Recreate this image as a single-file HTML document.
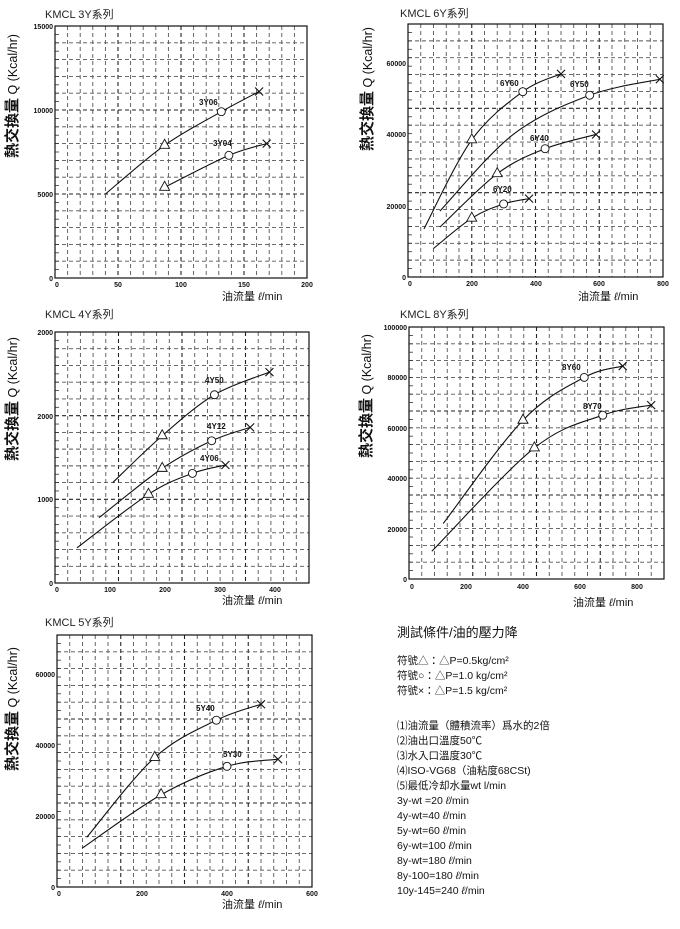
<!DOCTYPE html>
<html><head><meta charset="utf-8"><style>
html,body{margin:0;padding:0;background:#fff;}
svg{display:block;font-family:"Liberation Sans","Noto Sans CJK TC",sans-serif;}
.t{font-size:11px;fill:#222;}
.tk{font-size:7px;font-weight:bold;fill:#111;}
.sl{font-size:8px;font-weight:bold;fill:#111;}
.yl{font-size:12.5px;fill:#111;}
.xl{font-size:11px;fill:#111;}
.info{font-size:10.5px;fill:#111;}
</style></head><body>
<svg id="s" width="680" height="929" viewBox="0 0 680 929" xmlns="http://www.w3.org/2000/svg">
<g id="grid"></g><g id="curves"></g>
<!-- Chart 1 -->
<text class="t" x="45" y="18">KMCL  3Y系列</text>
<text class="yl" transform="translate(17,158) rotate(-90)"><tspan font-size="15" font-weight="bold">熱交換量</tspan>  Q (Kcal/hr)</text>
<text class="xl" x="222" y="300">油流量 <tspan font-style="italic">ℓ</tspan>/min</text>
<g class="tk" text-anchor="end"><text x="53" y="29">15000</text><text x="53" y="113">10000</text><text x="53" y="197">5000</text><text x="53" y="281">0</text></g>
<g class="tk" text-anchor="middle"><text x="57" y="287">0</text><text x="118" y="287">50</text><text x="181" y="287">100</text><text x="244" y="287">150</text><text x="307" y="287">200</text></g>
<text class="sl" x="199" y="105">3Y06</text><text class="sl" x="213" y="146">3Y04</text>
<!-- Chart 2 -->
<text class="t" x="400" y="17">KMCL  6Y系列</text>
<text class="yl" transform="translate(372,151) rotate(-90)"><tspan font-size="15" font-weight="bold">熱交換量</tspan>  Q (Kcal/hr)</text>
<text class="xl" x="578" y="300">油流量 <tspan font-style="italic">ℓ</tspan>/min</text>
<g class="tk" text-anchor="end"><text x="406" y="66">60000</text><text x="406" y="137">40000</text><text x="406" y="209">20000</text><text x="406" y="280">0</text></g>
<g class="tk" text-anchor="middle"><text x="410" y="286">0</text><text x="472" y="286">200</text><text x="536" y="286">400</text><text x="599" y="286">600</text><text x="663" y="286">800</text></g>
<text class="sl" x="500" y="86">6Y60</text><text class="sl" x="570" y="87">6Y50</text><text class="sl" x="530" y="141">6Y40</text><text class="sl" x="493" y="192">6Y20</text>
<!-- Chart 3 -->
<text class="t" x="45" y="318">KMCL  4Y系列</text>
<text class="yl" transform="translate(17,461) rotate(-90)"><tspan font-size="15" font-weight="bold">熱交換量</tspan>  Q (Kcal/hr)</text>
<text class="xl" x="222" y="604">油流量 <tspan font-style="italic">ℓ</tspan>/min</text>
<g class="tk" text-anchor="end"><text x="53" y="335">2000</text><text x="53" y="419">2000</text><text x="53" y="502">1000</text><text x="53" y="586">0</text></g>
<g class="tk" text-anchor="middle"><text x="57" y="592">0</text><text x="110" y="592">100</text><text x="165" y="592">200</text><text x="220" y="592">300</text><text x="275" y="592">400</text></g>
<text class="sl" x="205" y="383">4Y50</text><text class="sl" x="207" y="429">4Y12</text><text class="sl" x="200" y="461">4Y06</text>
<!-- Chart 4 -->
<text class="t" x="400" y="318">KMCL  8Y系列</text>
<text class="yl" transform="translate(371,458) rotate(-90)"><tspan font-size="15" font-weight="bold">熱交換量</tspan>  Q (Kcal/hr)</text>
<text class="xl" x="573" y="606">油流量 <tspan font-style="italic">ℓ</tspan>/min</text>
<g class="tk" text-anchor="end"><text x="407" y="330">100000</text><text x="407" y="380">80000</text><text x="407" y="431">60000</text><text x="407" y="481">40000</text><text x="407" y="532">20000</text><text x="407" y="582">0</text></g>
<g class="tk" text-anchor="middle"><text x="412" y="589">0</text><text x="466" y="589">200</text><text x="523" y="589">400</text><text x="580" y="589">600</text><text x="637" y="589">800</text></g>
<text class="sl" x="562" y="370">8Y60</text><text class="sl" x="583" y="409">8Y70</text>
<!-- Chart 5 -->
<text class="t" x="45" y="626">KMCL  5Y系列</text>
<text class="yl" transform="translate(17,771) rotate(-90)"><tspan font-size="15" font-weight="bold">熱交換量</tspan>  Q (Kcal/hr)</text>
<text class="xl" x="222" y="908">油流量 <tspan font-style="italic">ℓ</tspan>/min</text>
<g class="tk" text-anchor="end"><text x="55" y="677">60000</text><text x="55" y="748">40000</text><text x="55" y="819">20000</text><text x="55" y="890">0</text></g>
<g class="tk" text-anchor="middle"><text x="59" y="896">0</text><text x="142" y="896">200</text><text x="227" y="896">400</text><text x="312" y="896">600</text></g>
<text class="sl" x="196" y="711">5Y40</text><text class="sl" x="223" y="757">5Y30</text>
<!-- Info -->
<text x="397" y="637" font-size="13" fill="#111">測試條件/油的壓力降</text>
<g class="info">
<text x="397" y="664">符號△：△P=0.5kg/cm²</text>
<text x="397" y="679">符號○：△P=1.0 kg/cm²</text>
<text x="397" y="694">符號×：△P=1.5 kg/cm²</text>
<text x="397" y="729">⑴油流量（體積流率）爲水的2倍</text>
<text x="397" y="744">⑵油出口溫度50℃</text>
<text x="397" y="759">⑶水入口溫度30℃</text>
<text x="397" y="774">⑷ISO-VG68（油粘度68CSt)</text>
<text x="397" y="789">⑸最低冷却水量wt l/min</text>
<text x="397" y="804">3y-wt =20  <tspan font-style="italic">ℓ</tspan>/min</text>
<text x="397" y="819">4y-wt=40  <tspan font-style="italic">ℓ</tspan>/min</text>
<text x="397" y="834">5y-wt=60  <tspan font-style="italic">ℓ</tspan>/min</text>
<text x="397" y="849">6y-wt=100  <tspan font-style="italic">ℓ</tspan>/min</text>
<text x="397" y="864">8y-wt=180  <tspan font-style="italic">ℓ</tspan>/min</text>
<text x="397" y="879">8y-100=180  <tspan font-style="italic">ℓ</tspan>/min</text>
<text x="397" y="894">10y-145=240  <tspan font-style="italic">ℓ</tspan>/min</text>
</g>
</svg>
<script>
(function(){
var NS="http://www.w3.org/2000/svg";
var G=document.getElementById("grid"),C=document.getElementById("curves");
function el(p,n,a){var e=document.createElementNS(NS,n);for(var k in a)e.setAttribute(k,a[k]);p.appendChild(e);return e;}
var charts=[
{l:55,r:307,t:26,b:278,xm:200,ym:15000,s:[[[40,5000],[87,7900],[132,9900],[162,11100]],[[87,5400],[138,7300],[168,8000]]]},
{l:408,r:663,t:24,b:277,xm:800,ym:71000,s:[[[50,13500],[200,38500],[360,52000],[480,57000]],[[100,18500],[330,40000],[570,51000],[790,55500]],[[100,14000],[280,29000],[430,36000],[590,40000]],[[80,8000],[200,16500],[300,20500],[380,22000]]],mk:[[[1,"t"],[2,"c"],[3,"x"]],[[2,"c"],[3,"x"]],[[1,"t"],[2,"c"],[3,"x"]],[[1,"t"],[2,"c"],[3,"x"]]]},
{l:55,r:309,t:332,b:583,xm:462,ym:3000,s:[[[105,1200],[195,1760],[290,2250],[390,2520]],[[80,780],[195,1370],[285,1700],[355,1860]],[[40,420],[170,1060],[250,1310],[310,1410]]]},
{l:409,r:664,t:327,b:579,xm:895,ym:100000,s:[[[120,22000],[400,63000],[615,80000],[750,84500]],[[80,11000],[440,52000],[680,65000],[850,69000]]]},
{l:57,r:312,t:635,b:887,xm:600,ym:71000,s:[[[70,14000],[230,36500],[375,47000],[480,51500]],[[60,11000],[245,26000],[400,34000],[520,36000]]]}
];
charts[0].mk=[[[1,"t"],[2,"c"],[3,"x"]],[[0,"t"],[1,"c"],[2,"x"]]];
charts[2].mk=[[[1,"t"],[2,"c"],[3,"x"]],[[1,"t"],[2,"c"],[3,"x"]],[[1,"t"],[2,"c"],[3,"x"]]];
charts[3].mk=charts[2].mk;charts[4].mk=charts[2].mk;
charts.forEach(function(c){
 var w=c.r-c.l,h=c.b-c.t,i;
 for(i=1;i<20;i++){var x=c.l+w*i/20;el(G,"line",{x1:x,x2:x,y1:c.t,y2:c.b,stroke:i%5==0?"#222":"#555","stroke-width":i%5==0?1.1:0.9,"stroke-dasharray":"4,3"});}
 for(i=1;i<15;i++){var y=c.t+h*i/15;el(G,"line",{x1:c.l,x2:c.r,y1:y,y2:y,stroke:i%5==0?"#222":"#555","stroke-width":i%5==0?1.1:0.9,"stroke-dasharray":"4,3"});}
 for(i=1;i<30;i++){var y2=c.t+h*i/30;el(G,"line",{x1:c.l,x2:c.l+4,y1:y2,y2:y2,stroke:"#333","stroke-width":0.8});}
 el(G,"rect",{x:c.l,y:c.t,width:w,height:h,fill:"none",stroke:"#111","stroke-width":1.2});
 function P(p){return [c.l+p[0]/c.xm*w,c.b-p[1]/c.ym*h];}
 c.s.forEach(function(ser,si){
  var pts=ser.map(P),d="M"+pts[0][0]+","+pts[0][1];
  for(var k=0;k<pts.length-1;k++){
   var p0=pts[k-1]||pts[k],p1=pts[k],p2=pts[k+1],p3=pts[k+2]||p2;
   d+=" C"+(p1[0]+(p2[0]-p0[0])/6)+","+(p1[1]+(p2[1]-p0[1])/6)+" "+(p2[0]-(p3[0]-p1[0])/6)+","+(p2[1]-(p3[1]-p1[1])/6)+" "+p2[0]+","+p2[1];
  }
  el(C,"path",{d:d,fill:"none",stroke:"#111","stroke-width":1.1});
  (c.mk[si]||[]).forEach(function(m){
   var q=pts[m[0]];if(!q)return;var x=q[0],y=q[1];
   if(m[1]=="t")el(C,"polygon",{points:(x)+","+(y-6)+" "+(x-5)+","+(y+3)+" "+(x+5)+","+(y+3),fill:"#fff",stroke:"#111","stroke-width":0.9});
   else if(m[1]=="c")el(C,"circle",{cx:x,cy:y,r:4,fill:"#fff",stroke:"#111","stroke-width":0.9});
   else{el(C,"path",{d:"M"+(x-4)+","+(y-4)+"L"+(x+4)+","+(y+4)+"M"+(x+4)+","+(y-4)+"L"+(x-4)+","+(y+4),stroke:"#111","stroke-width":1.1});}
  });
 });
});
})();
</script>
</body></html>
